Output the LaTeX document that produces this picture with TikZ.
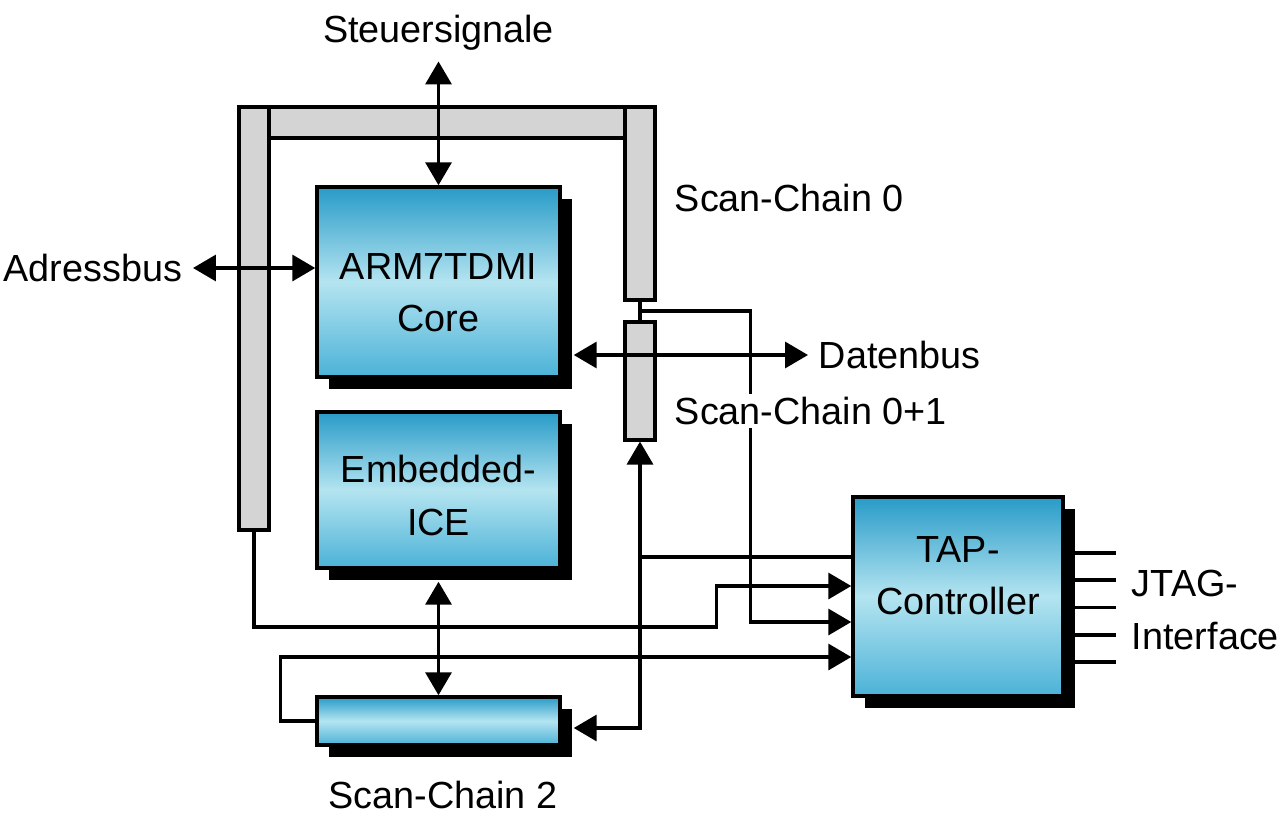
\documentclass[tikz,border=0pt]{standalone}
\usepackage{fontspec}
\setmainfont{Liberation Sans}
\usetikzlibrary{calc,arrows.meta,shadows}

\definecolor{coretop}{RGB}{40,155,200}
\definecolor{coremid}{RGB}{180,228,240}
\definecolor{corebot}{RGB}{75,178,215}
\definecolor{chaingray}{RGB}{212,212,212}

\tikzset{
	corebox/.style={draw=black, line width=2pt, top color=coretop, bottom color=corebot, middle color=coremid,
		drop shadow={shadow xshift=0.24cm, shadow yshift=-0.24cm, fill=black, opacity=1}, align=center, inner sep=0pt},
	chainbar/.style={draw=black, line width=1.8pt, fill=chaingray, inner sep=0pt},
	sig/.style={line width=2pt},
	sigarr/.style={sig, -{Triangle[length=0.46cm,width=0.52cm]}},
	sigdbl/.style={sig, {Triangle[length=0.46cm,width=0.52cm]}-{Triangle[length=0.46cm,width=0.52cm]}},
	lbl/.style={inner xsep=6pt, inner ysep=2pt},
}

\begin{document}
\begin{tikzpicture}[x=0.02cm, y=-0.02cm, font=\fontsize{21.5}{30}\selectfont]
		%%%%% START %%%%%
		\useasboundingbox (0, 0) rectangle (1280, 824);
		
		% scan chains round the core
		\node[chainbar, minimum width=7.12cm, minimum height=0.62cm] (tbar) at (447, 122.5) {};
		\node[chainbar, minimum width=0.6cm, minimum height=8.46cm] (lbar) at (254, 318.5) {};
		\node[chainbar, minimum width=0.6cm, minimum height=3.86cm] (sc0) at (640, 203.5) {};
		\node[chainbar, minimum width=0.6cm, minimum height=2.36cm] (sc01) at (640, 381) {};
		
		\node[corebox, minimum width=4.86cm, minimum height=3.8cm, text height=57pt] (arm) at (438.5, 282) {ARM7TDMI\\Core};
		\node[corebox, minimum width=4.86cm, minimum height=3.12cm, text height=52pt] (ice) at (438.5, 490) {Embedded-\\ICE};
		\node[corebox, minimum width=4.86cm, minimum height=0.96cm] (sc2) at (438.5, 721) {};
		\node[corebox, minimum width=4.2cm, minimum height=3.98cm, text depth=24pt] (tap) at (958, 596.5) {TAP-\\Controller};
		
		\node[lbl] (steuer) at (438.5, 33) {Steuersignale};
		\node[lbl, anchor=east] (adr) at (193, 268) {Adressbus};
		\node[lbl, anchor=west] (daten) at (808, 355) {Datenbus};
		\node[lbl, anchor=west] (lsc0) at (664, 198) {Scan-Chain 0};
		\node[lbl] (lsc2) at (443, 795) {Scan-Chain 2};
		\node[lbl, anchor=west, align=left] (jtag) at (1121, 610) {JTAG-\\Interface};
		
		% buses
		\draw[sigdbl, shorten <=0.14cm] (steuer.south) -- (arm.north);
		\draw[sigdbl] (adr.east) -- (adr.east -| arm.west);
		\draw[sigdbl] ($(daten.west -| arm.east)+(12,0)$) -- (daten.west);
		\draw[sigdbl] ($(ice.south)+(0,12)$) -- (sc2.north);
		
		% TAP wiring
		\coordinate (j01) at ($(sc0.south)!0.5!(sc01.north)$);
		\coordinate (tout) at ($(tap.west)+(0,-39.5)$);
		\coordinate (tin1) at ($(tap.west)+(0,-10.5)$);
		\coordinate (tin2) at ($(tap.west)+(0,25.5)$);
		\coordinate (tin3) at ($(tap.west)+(0,60.5)$);
		\coordinate (t01) at (sc01.south |- tout);
		
		\draw[sig] (sc0.south) -- (sc01.north);
		\draw[sigarr] (j01) -| ($(tin2)+(-101,0)$) -- (tin2);
		\draw[sigarr] (lbar.south) |- ($(tin1)+(-135,41)$) |- (tin1);
		\draw[sig] (tout) -- (t01);
		\draw[sigarr] (t01) -- (sc01.south);
		\draw[sigarr] (t01) |- ($(sc2.east)+(12,7)$);
		\draw[sigarr] (sc2.west) -- ++(-35,0) |- (tin3);
		
		\node[lbl, anchor=west, fill=white] (lsc01) at (664, 411) {Scan-Chain 0+1};
		
		% JTAG pins
		\foreach \k in {0,...,4}
			\draw[sig] ($(tap.east)+(0,-43.5+27.25*\k)$) -- ++(51,0);
		
		%%%%% END %%%%%
\end{tikzpicture}
\end{document}
